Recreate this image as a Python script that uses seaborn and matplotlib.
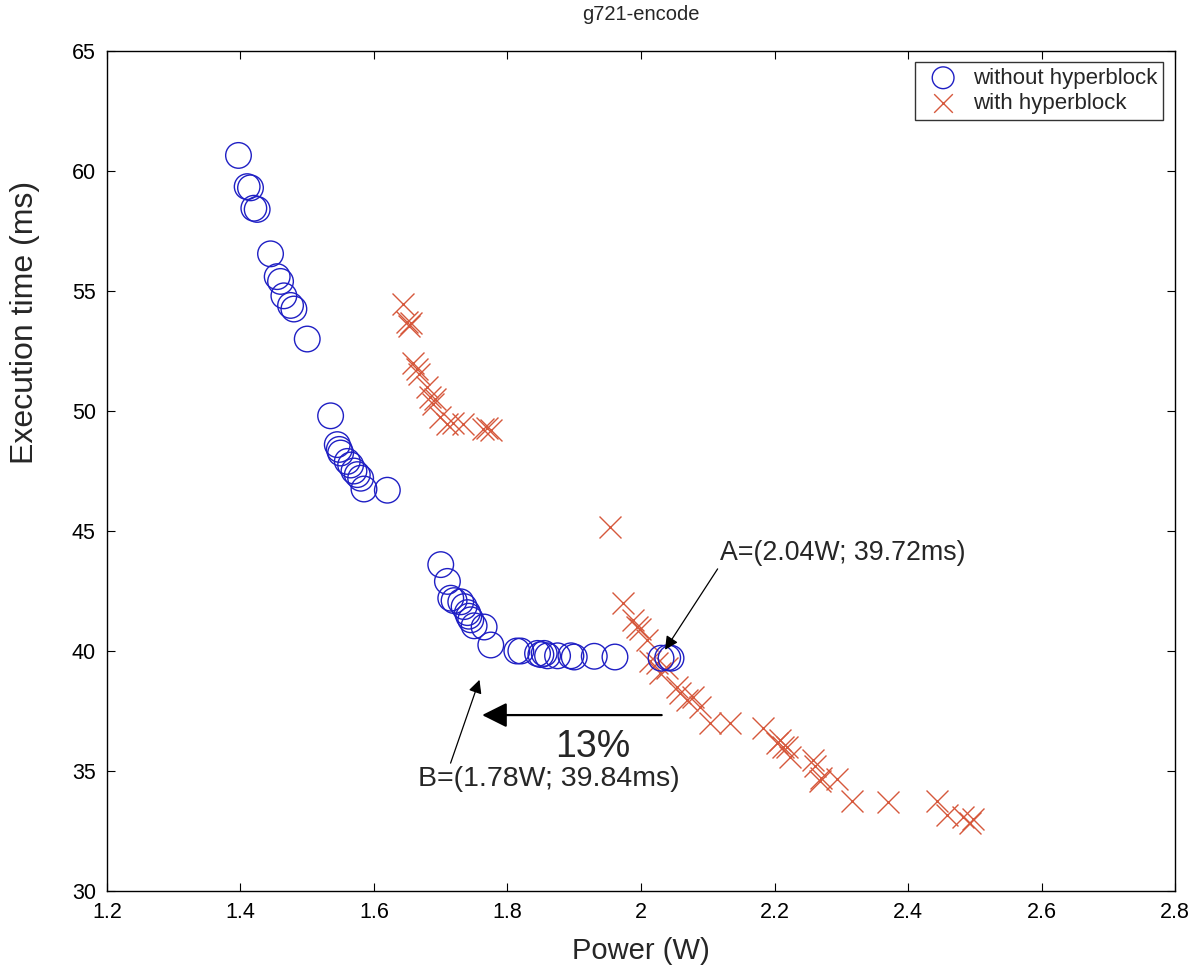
import numpy as np
import pandas as pd
import seaborn as sns
import matplotlib
matplotlib.use("Agg")
import matplotlib.pyplot as plt

# ---- data ----
without_power = [1.397, 1.410, 1.415, 1.420, 1.425, 1.445, 1.455, 1.460, 1.465,
                 1.475, 1.480, 1.500, 1.535, 1.545, 1.548, 1.550, 1.560, 1.565,
                 1.570, 1.575, 1.580, 1.585, 1.620, 1.700, 1.710, 1.715, 1.720,
                 1.730, 1.735, 1.740, 1.742, 1.745, 1.750, 1.765, 1.775, 1.814,
                 1.820, 1.845, 1.850, 1.855, 1.860, 1.875, 1.895, 1.900, 1.930,
                 1.961, 2.030, 2.040, 2.045]
without_time = [60.65, 59.35, 59.30, 58.45, 58.40, 56.55, 55.60, 55.40, 54.80,
                54.40, 54.25, 53.00, 49.80, 48.60, 48.40, 48.25, 47.90, 47.75,
                47.50, 47.35, 47.20, 46.75, 46.70, 43.60, 42.90, 42.20, 42.10,
                42.05, 41.85, 41.60, 41.45, 41.30, 41.05, 41.00, 40.25, 40.00,
                40.00, 39.90, 39.85, 39.90, 39.80, 39.80, 39.80, 39.75, 39.78,
                39.75, 39.70, 39.72, 39.70]

with_power = [1.643, 1.649, 1.652, 1.655, 1.658, 1.664, 1.668, 1.679, 1.684,
              1.688, 1.692, 1.699, 1.709, 1.718, 1.733, 1.763, 1.770, 1.775,
              1.954, 1.973, 1.988, 1.994, 1.998, 2.009, 2.013, 2.024, 2.028,
              2.039, 2.054, 2.058, 2.069, 2.078, 2.088, 2.103, 2.133, 2.183,
              2.204, 2.208, 2.213, 2.219, 2.223, 2.258, 2.260, 2.268, 2.270,
              2.294, 2.316, 2.370, 2.443, 2.458, 2.482, 2.493, 2.497]
with_time = [54.45, 53.70, 53.55, 53.65, 52.00, 51.75, 51.55, 51.00, 50.60,
             50.30, 50.50, 49.75, 49.45, 49.50, 49.45, 49.25, 49.30, 49.20,
             45.17, 42.00, 41.30, 41.00, 40.90, 40.46, 39.60, 39.50, 39.10,
             39.30, 38.50, 38.25, 37.96, 38.10, 37.67, 37.00, 37.00, 36.80,
             36.17, 36.30, 36.00, 36.00, 35.60, 35.46, 35.20, 34.60, 34.70,
             34.65, 33.75, 33.70, 33.75, 33.15, 33.10, 32.85, 33.00]

label_without = "without hyperblock"
label_with = "with hyperblock"
title = "g721-encode"
xlabel = "Power (W)"
ylabel = "Execution time (ms)"

point_a = (2.04, 39.72)
point_b = (1.78, 39.84)
text_a = "A=(2.04W; 39.72ms)"
text_b = "B=(1.78W; 39.84ms)"
text_pct = "13%"

# ---- styling ----
sns.set_theme(style="white")
plt.rcParams["font.family"] = ["Liberation Sans", "DejaVu Sans"]

fig = plt.figure(figsize=(11.94, 9.76), dpi=100)
ax = fig.add_axes([0.0896, 0.0871, 0.8945, 0.8606])

df_wo = pd.DataFrame({"power": without_power, "time": without_time})
df_w = pd.DataFrame({"power": with_power, "time": with_time})

sns.scatterplot(data=df_wo, x="power", y="time", ax=ax, marker="o", s=340,
                facecolor="none", edgecolor="#1f1fc4", linewidth=1.0,
                label=label_without, zorder=3)
sns.scatterplot(data=df_w, x="power", y="time", ax=ax, marker="x", s=250,
                color="#d6583c", linewidth=1.0, label=label_with, zorder=2)

ax.set_xlim(1.2, 2.8)
ax.set_ylim(30, 65)
ax.set_xticks(np.arange(1.2, 2.81, 0.2))
ax.set_xticklabels(["1.2", "1.4", "1.6", "1.8", "2", "2.2", "2.4", "2.6", "2.8"])
ax.set_yticks(np.arange(30, 66, 5))

for sp in ax.spines.values():
    sp.set_color("black")
    sp.set_linewidth(1.0)
    sp.set_visible(True)
ax.tick_params(direction="in", length=6, width=0.8, colors="black",
               labelsize=15.5, top=True, right=True, bottom=True, left=True,
               labeltop=False, labelright=False, pad=8)

ax.set_title(title, fontsize=14.5, pad=22)
ax.set_xlabel(xlabel, fontsize=21, labelpad=10)
ax.set_ylabel(ylabel, fontsize=23)
ax.yaxis.set_label_coords(-0.063, 0.677)

# annotations
ax.annotate(text_a, xy=(point_a[0] - 0.004, 40.05), xytext=(2.118, 44.1),
            fontsize=19.3, ha="left", va="center",
            arrowprops=dict(arrowstyle="-|>", color="black", lw=0.9,
                            mutation_scale=20, shrinkA=0, shrinkB=0,
                            relpos=(0.0, 0.0)))
ax.annotate(text_b, xy=(point_b[0] - 0.022, 38.8), xytext=(1.666, 34.65),
            fontsize=20.5, ha="left", va="center",
            arrowprops=dict(arrowstyle="-|>", color="black", lw=0.9,
                            mutation_scale=20, shrinkA=0, shrinkB=0,
                            relpos=(0.12, 1.0)))
ax.annotate("", xy=(1.762, 37.33), xytext=(2.031, 37.33),
            arrowprops=dict(arrowstyle="-|>", color="black", lw=1.6,
                            mutation_scale=38, shrinkA=0, shrinkB=0))
ax.text(1.927, 36.0, text_pct, fontsize=27, ha="center", va="center")

leg = ax.legend(loc="upper right", bbox_to_anchor=(0.9888, 0.9869),
                fontsize=16, frameon=True, fancybox=False, markerscale=0.85,
                borderpad=0.25, labelspacing=0.2, handletextpad=0.35,
                handlelength=2.0, borderaxespad=0)
leg.get_frame().set_edgecolor("black")
leg.get_frame().set_linewidth(1.0)

fig.savefig("out.png", dpi=100)
